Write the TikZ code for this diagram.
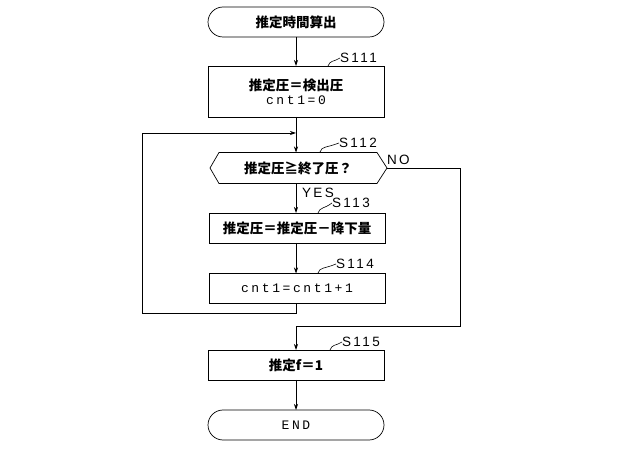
\documentclass[tikz,border=0pt]{standalone}
\usepackage{fontspec}
\setmainfont{Noto Sans CJK JP}
\newfontfamily\monow[LetterSpace=20]{Liberation Mono}
\newfontfamily\labf[LetterSpace=18]{Liberation Sans}
\usetikzlibrary{arrows.meta}
\begin{document}
\begin{tikzpicture}[x=1pt,y=-1pt,
  every node/.style={inner sep=0pt,outer sep=0pt},
  base/.style={draw,line width=0.7pt,minimum width=176pt,font=\fontsize{13.5}{15}\selectfont\bfseries},
  term/.style={base,minimum height=30pt,rounded corners=15pt},
  proc/.style={base,minimum height=30pt},
  conn/.style={line width=0.7pt},
  arr/.style={conn,-{Stealth[length=6pt,width=4pt]}},
  slab/.style={font=\labf\fontsize{13.5}{13.5}\selectfont,anchor=west},
  monot/.style={},
  squig/.style={line width=0.6pt}]
\useasboundingbox (0,0) rectangle (622,449);
\node[term] (start) at (296,22) {推定時間算出};
\node[proc,minimum height=51pt,align=center] (s111) at (296,91.5) {推定圧＝検出圧\\[-1pt]{\monow\mdseries\fontsize{13}{14}\selectfont cnt1=0}};
\node[minimum width=158pt,minimum height=31pt,font=\fontsize{13.5}{15}\selectfont\bfseries] (d) at (298,168) {推定圧≧終了圧？};
\coordinate (dl) at (210,168);
\coordinate (dr) at (387,168);
\draw[line width=0.7pt] (dl) -- (d.north west) -- (d.north east) -- (dr) -- (d.south east) -- (d.south west) -- cycle;
\node[proc] (s113) at (297,228) {推定圧＝推定圧－降下量};
\node[proc] (s114) at (297,288.5) {\monow\mdseries\fontsize{13}{14}\selectfont cnt1=cnt1+1};
\node[proc] (s115) at (296,365) {推定f＝1};
\node[term] (end) at (296,425) {\monow\mdseries\fontsize{13}{14}\selectfont END};
% connectors
\coordinate (j1) at (296,133);
\coordinate (lb) at (296,313);
\coordinate (lbl) at (142,313);
\coordinate (ltl) at (142,133);
\coordinate (nr) at (460,168);
\coordinate (nb) at (460,326);
\coordinate (nbl) at (296,326);
\draw[arr] (start) -- (s111);
\draw[arr] (s111.south) -- (s111.south |- d.north);
\draw[arr] (s111.south |- d.south) -- (s111.south |- s113.north);
\draw[arr] (s111.south |- s113.south) -- (s111.south |- s114.north);
\draw[arr] (s111.south |- s114.south) -- (lb) -- (lbl) -- (ltl) -- (j1);
\draw[arr] (dr) -- (nr) -- (nb) -- (nbl) -- (s115.north);
\draw[arr] (s115) -- (end);
% labels
\node[slab] (l111) at (340,58) {S111};
\node[slab] (l112) at (339,143) {S112};
\node[slab] (l113) at (332,203) {S113};
\node[slab] (l114) at (336,264) {S114};
\node[slab] (l115) at (342,342) {S115};
\node[slab] (yes) at (302,193) {YES};
\node[slab] (no) at (387,160) {NO};
\draw[squig] (328,66) .. controls (330,60) and (334,62) .. (l111.west);
\draw[squig] (320,152) .. controls (322,146) and (326,148) .. (l112.west);
\draw[squig] (318,213) .. controls (320,207) and (324,209) .. (l113.west);
\draw[squig] (318,273) .. controls (320,267) and (324,269) .. (l114.west);
\draw[squig] (330,350) .. controls (332,344) and (336,346) .. (l115.west);
\end{tikzpicture}
\end{document}
